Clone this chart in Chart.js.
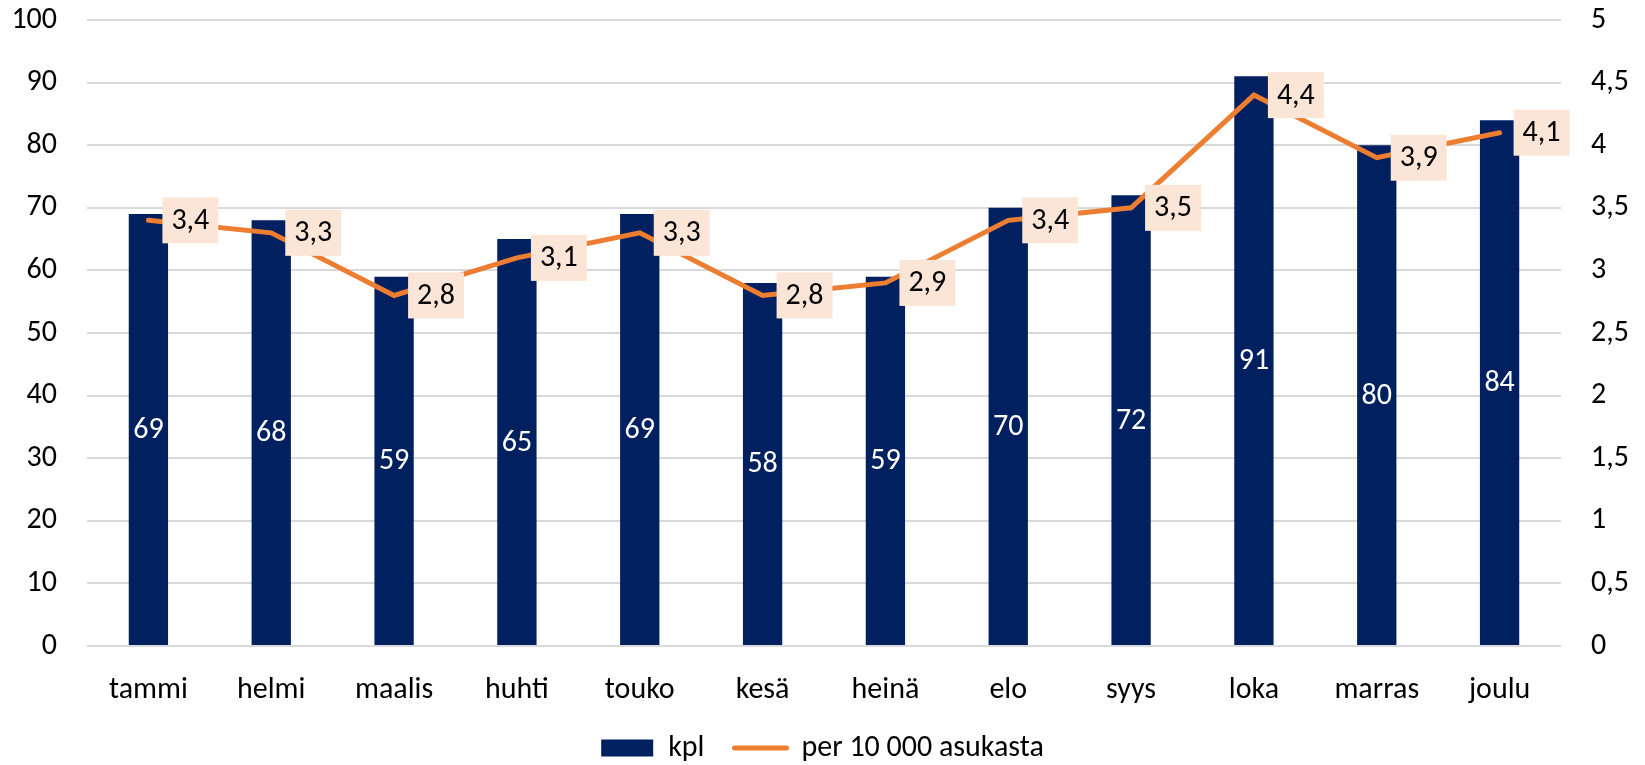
<!DOCTYPE html>
<html>
<head>
<meta charset="utf-8">
<script src="https://cdn.jsdelivr.net/npm/chart.js@4/dist/chart.umd.min.js"></script>
<style>
  html, body { margin: 0; padding: 0; background: #fff; }
  #wrap { width: 1645px; height: 765px; }
</style>
</head>
<body>
<div id="wrap"><canvas id="chart" width="1645" height="765"></canvas></div>
<script>
const months = ['tammi', 'helmi', 'maalis', 'huhti', 'touko', 'kesä', 'heinä', 'elo', 'syys', 'loka', 'marras', 'joulu'];
const kpl = [69, 68, 59, 65, 69, 58, 59, 70, 72, 91, 80, 84];
const perAsukas = [3.4, 3.3, 2.8, 3.1, 3.3, 2.8, 2.9, 3.4, 3.5, 4.4, 3.9, 4.1];

const FONT = "Carlito, Calibri, Lato, sans-serif";
const SIZE = 30;
const fmt = v => String(v).replace('.', ',');

// value labels: white inside bars, peach boxes to the right of line points
const valueLabels = {
  id: 'value-labels',
  afterDatasetsDraw(chart) {
    const { ctx } = chart;
    ctx.save();
    ctx.font = `${SIZE}px ${FONT}`;
    ctx.textBaseline = 'middle';

    chart.getDatasetMeta(0).data.forEach((bar, i) => {
      ctx.fillStyle = '#ffffff';
      ctx.textAlign = 'center';
      ctx.fillText(fmt(kpl[i]), bar.x, (bar.y + bar.base) / 2 + 1);
    });

    chart.getDatasetMeta(1).data.forEach((pt, i) => {
      const text = fmt(perAsukas[i]);
      const w = ctx.measureText(text).width + 18;
      const h = 46;
      const left = pt.x + 14;
      ctx.fillStyle = '#FBE5D6';
      ctx.fillRect(left, pt.y - h / 2, w, h);
      ctx.fillStyle = '#000000';
      ctx.textAlign = 'left';
      ctx.fillText(text, left + 9, pt.y + 1);
    });
    ctx.restore();
  }
};

// legend sits partly in the negative bottom padding, pull it back up
const legendShift = {
  id: 'legend-shift',
  afterLayout(chart) {
    chart.legend.top -= 18;
    chart.legend.bottom -= 18;
  }
};

const hiddenTicks = { drawTicks: true, tickLength: 30, tickColor: 'rgba(0,0,0,0)' };

new Chart(document.getElementById('chart'), {
  data: {
    labels: months,
    datasets: [
      {
        type: 'bar',
        label: 'kpl',
        data: kpl,
        yAxisID: 'y',
        backgroundColor: '#002060',
        borderWidth: 0,
        categoryPercentage: 1,
        barPercentage: 0.32,
        order: 2
      },
      {
        type: 'line',
        label: 'per 10 000 asukasta',
        data: perAsukas,
        yAxisID: 'y1',
        borderColor: '#ED7D31',
        backgroundColor: '#ED7D31',
        borderWidth: 5,
        pointRadius: 0,
        tension: 0,
        borderCapStyle: 'round',
        order: 1
      }
    ]
  },
  options: {
    responsive: false,
    animation: false,
    layout: { padding: { top: 20, left: 0, right: 0, bottom: -26 } },
    scales: {
      x: {
        grid: { display: false },
        border: { display: false },
        ticks: { color: '#000', font: { family: FONT, size: SIZE }, padding: 18, maxRotation: 0 },
        afterFit(scale) { scale.height = 75; }
      },
      y: {
        position: 'left',
        min: 0,
        max: 100,
        ticks: { stepSize: 10, color: '#000', font: { family: FONT, size: SIZE }, padding: 0 },
        grid: { color: '#D9D9D9', lineWidth: 2, ...hiddenTicks },
        border: { display: false },
        afterFit(scale) { scale.width = 87; }
      },
      y1: {
        position: 'right',
        min: 0,
        max: 5,
        ticks: { stepSize: 0.5, color: '#000', font: { family: FONT, size: SIZE }, padding: 0, callback: v => fmt(v) },
        grid: { drawOnChartArea: false, ...hiddenTicks },
        border: { display: false },
        afterFit(scale) { scale.width = 84; }
      }
    },
    plugins: {
      tooltip: { enabled: false },
      legend: {
        position: 'bottom',
        labels: {
          color: '#000',
          font: { family: FONT, size: SIZE },
          usePointStyle: true,
          boxWidth: 52,
          boxHeight: 17,
          pointStyleWidth: 52,
          padding: 30,
          generateLabels(chart) {
            return chart.data.datasets.map((ds, i) => ({
              text: ds.label,
              datasetIndex: i,
              fillStyle: ds.type === 'bar' ? ds.backgroundColor : ds.borderColor,
              strokeStyle: ds.type === 'bar' ? ds.backgroundColor : ds.borderColor,
              lineWidth: ds.type === 'bar' ? 0 : 5,
              lineCap: 'round',
              pointStyle: ds.type === 'bar' ? 'rect' : 'line',
              hidden: false
            }));
          }
        }
      }
    }
  },
  plugins: [valueLabels, legendShift]
});
</script>
</body>
</html>
